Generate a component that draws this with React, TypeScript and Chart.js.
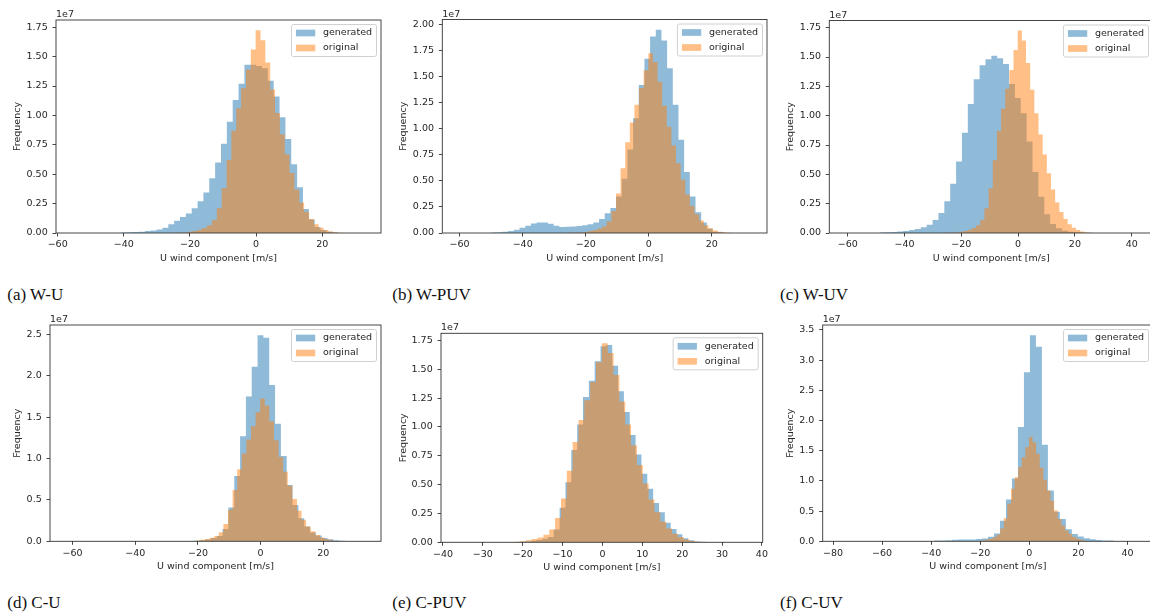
import React, { useEffect, useRef } from "react";
import { Chart, registerables } from "chart.js";

Chart.register(...registerables);

// ---------------- data (frequencies in units of 1e7) ----------------
const SERIES_LABELS = ["generated", "original"];
const X_LABEL = "U wind component [m/s]";
const Y_LABEL = "Frequency";
const OFFSET_LABEL = "1e7";

// "original" histogram: the same data in every panel
const ORIGINAL_START = -25.07;
const ORIGINAL_WIDTH = 1.466;
const ORIGINAL = [
  0.0015, 0.003, 0.005, 0.01, 0.018, 0.028, 0.042, 0.065, 0.11, 0.21,
  0.38, 0.62, 0.87, 1.06, 1.23, 1.39, 1.56, 1.725, 1.64, 1.45,
  1.22, 1.02, 0.84, 0.67, 0.51, 0.37, 0.26, 0.18, 0.12, 0.075,
  0.045, 0.025, 0.012, 0.005, 0.002,
];

// (a) W-U generated
const GEN_A_START = -40.71;
const GEN_A_WIDTH = 1.77;
const GEN_A = [
  0.005, 0.006, 0.008, 0.011, 0.016, 0.022, 0.03, 0.045, 0.075, 0.105,
  0.135, 0.165, 0.21, 0.27, 0.345, 0.465, 0.6, 0.76, 0.945, 1.13,
  1.27, 1.43, 1.43, 1.42, 1.4, 1.295, 1.16, 0.985, 0.8, 0.585,
  0.39, 0.205, 0.115, 0.05, 0.025, 0.01, 0.004,
];

// (b) W-PUV generated
const GEN_B_START = -49.98;
const GEN_B_WIDTH = 1.8;
const GEN_B = [
  0.005, 0.008, 0.012, 0.02, 0.03, 0.05, 0.07, 0.09, 0.1, 0.1,
  0.088, 0.07, 0.058, 0.06, 0.063, 0.067, 0.075, 0.085, 0.1, 0.135,
  0.19, 0.24, 0.35, 0.52, 0.8, 1.1, 1.42, 1.67, 1.885, 1.95,
  1.845, 1.58, 1.23, 0.895, 0.585, 0.35, 0.2, 0.1, 0.04, 0.012, 0.004,
];

// (c) W-UV generated
const GEN_C_START = -48.76;
const GEN_C_WIDTH = 2.07;
const GEN_C = [
  0.004, 0.006, 0.009, 0.012, 0.017, 0.025, 0.035, 0.05, 0.07, 0.11,
  0.17, 0.27, 0.42, 0.61, 0.855, 1.1, 1.31, 1.43, 1.48, 1.51,
  1.49, 1.44, 1.27, 1.15, 1.02, 0.78, 0.52, 0.31, 0.16, 0.077,
  0.04, 0.02, 0.01, 0.006, 0.004, 0.003,
];

// (d) C-U generated
const GEN_D_START = -23.3;
const GEN_D_WIDTH = 1.86;
const GEN_D = [
  0.003, 0.006, 0.012, 0.022, 0.04, 0.065, 0.15, 0.41, 0.79, 1.27,
  1.75, 2.11, 2.49, 2.46, 1.89, 1.42, 1.03, 0.68, 0.44, 0.28,
  0.18, 0.105, 0.07, 0.04, 0.024, 0.012, 0.008, 0.005,
];

// (e) C-PUV generated
const GEN_E_START = -21.0;
const GEN_E_WIDTH = 1.466;
const GEN_E = [
  0.004, 0.008, 0.013, 0.02, 0.03, 0.045, 0.11, 0.3, 0.52, 0.8,
  1.02, 1.26, 1.4, 1.57, 1.7, 1.71, 1.53, 1.31, 1.13, 0.93,
  0.76, 0.595, 0.465, 0.34, 0.26, 0.17, 0.115, 0.07, 0.035, 0.018,
  0.008, 0.004,
];

// (f) C-UV generated
const GEN_F_START = -38.795;
const GEN_F_WIDTH = 2.44;
const GEN_F = [
  0.015, 0.015, 0.016, 0.025, 0.028, 0.028, 0.03, 0.04, 0.045, 0.075,
  0.13, 0.34, 0.69, 1.04, 1.89, 2.8, 3.41, 3.22, 1.6, 0.84,
  0.49, 0.37, 0.2, 0.12, 0.08, 0.05, 0.033, 0.02, 0.015, 0.012,
];

// tick labels
const X_TICKS_W = [-60, -40, -20, 0, 20];
const X_TICKS_C = [-60, -40, -20, 0, 20, 40];
const X_TICKS_E = [-40, -30, -20, -10, 0, 10, 20, 30, 40];
const X_TICKS_F = [-80, -60, -40, -20, 0, 20, 40];
const Y_TICKS_175 = [0, 0.25, 0.5, 0.75, 1.0, 1.25, 1.5, 1.75];
const Y_TICKS_200 = [0, 0.25, 0.5, 0.75, 1.0, 1.25, 1.5, 1.75, 2.0];
const Y_TICKS_25 = [0, 0.5, 1.0, 1.5, 2.0, 2.5];
const Y_TICKS_35 = [0, 0.5, 1.0, 1.5, 2.0, 2.5, 3.0, 3.5];

const CAPTIONS = ["(a) W-U", "(b) W-PUV", "(c) W-UV", "(d) C-U", "(e) C-PUV", "(f) C-UV"];

// ---------------- styles / layout ----------------
const FONT = '"DejaVu Sans", sans-serif';
const FS = 9.5;
const LH = FS * 1.2;
const TEXT = "#262626";
const AXIS = "#333333";
const BLUE = "rgba(31,119,180,0.5)";
const ORANGE = "rgba(255,127,14,0.5)";

const PANELS = [
  { gen: GEN_A, start: GEN_A_START, width: GEN_A_WIDTH, xTicks: X_TICKS_W, yTicks: Y_TICKS_175, dec: 2,
    X0: 0, L: 56, T: 20, R: 381, B: 233, xMin: -60.5, xMax: 37.75, yTitleX: 17.3, capX: 7.3, capBase: 300.3 },
  { gen: GEN_B, start: GEN_B_START, width: GEN_B_WIDTH, xTicks: X_TICKS_W, yTicks: Y_TICKS_200, dec: 2,
    X0: 385, L: 442.3, T: 19.5, R: 767, B: 233, xMin: -65.5, xMax: 37.5, yTitleX: 403.3, capX: 392.3, capBase: 300.3 },
  { gen: GEN_C, start: GEN_C_START, width: GEN_C_WIDTH, xTicks: X_TICKS_C, yTicks: Y_TICKS_175, dec: 2,
    X0: 770, L: 829.3, T: 20.5, R: 1153, B: 233, xMin: -66.5, xMax: 47.5, yTitleX: 790.7, capX: 780, capBase: 300.3 },
  { gen: GEN_D, start: GEN_D_START, width: GEN_D_WIDTH, xTicks: X_TICKS_W, yTicks: Y_TICKS_25, dec: 1,
    X0: 0, L: 50, T: 325, R: 381, B: 541.3, xMin: -67.2, xMax: 38.4, yTitleX: 18, capX: 7.3, capBase: 608.3 },
  { gen: GEN_E, start: GEN_E_START, width: GEN_E_WIDTH, xTicks: X_TICKS_E, yTicks: Y_TICKS_175, dec: 2,
    X0: 385, L: 441, T: 333.3, R: 762.7, B: 542.3, xMin: -40.5, xMax: 40.2, yTitleX: 403.3, capX: 392.3, capBase: 608.3 },
  { gen: GEN_F, start: GEN_F_START, width: GEN_F_WIDTH, xTicks: X_TICKS_F, yTicks: Y_TICKS_35, dec: 1,
    X0: 770, L: 822.7, T: 325, R: 1153, B: 541.3, xMin: -84.2, xMax: 50.4, yTitleX: 790.7, capX: 780, capBase: 608.3 },
];

function histPoints(start: number, width: number, counts: number[]) {
  const pts = counts.map((c, i) => ({ x: start + i * width, y: c }));
  pts.push({ x: start + counts.length * width, y: 0 });
  return pts;
}

function fmtX(v: number) {
  return v < 0 ? "\u2212" + Math.abs(v) : String(v);
}

const decorPlugin = {
  id: "decor",
  afterDraw(chart: any) {
    const { ctx, chartArea: a } = chart;
    ctx.save();
    // full frame (spines)
    ctx.strokeStyle = AXIS;
    ctx.lineWidth = 0.9;
    ctx.strokeRect(a.left, a.top, a.right - a.left, a.bottom - a.top);
    // offset text
    ctx.fillStyle = TEXT;
    ctx.font = `${FS}px ${FONT}`;
    ctx.textAlign = "left";
    ctx.textBaseline = "alphabetic";
    ctx.fillText(OFFSET_LABEL, a.left, a.top - 3);
    // legend
    const textW = Math.max(...SERIES_LABELS.map((l) => ctx.measureText(l).width));
    const padL = 4.5, handleW = 19.3, gap = 7.7, padR = 4.5;
    const boxW = padL + handleW + gap + textW + padR;
    const boxR = a.right - 4.5;
    const boxL = boxR - boxW;
    const boxT = a.top + 4.5;
    const boxH = 32;
    const r = 2;
    ctx.beginPath();
    ctx.moveTo(boxL + r, boxT);
    ctx.lineTo(boxR - r, boxT);
    ctx.arcTo(boxR, boxT, boxR, boxT + r, r);
    ctx.lineTo(boxR, boxT + boxH - r);
    ctx.arcTo(boxR, boxT + boxH, boxR - r, boxT + boxH, r);
    ctx.lineTo(boxL + r, boxT + boxH);
    ctx.arcTo(boxL, boxT + boxH, boxL, boxT + boxH - r, r);
    ctx.lineTo(boxL, boxT + r);
    ctx.arcTo(boxL, boxT, boxL + r, boxT, r);
    ctx.closePath();
    ctx.fillStyle = "rgba(255,255,255,0.8)";
    ctx.fill();
    ctx.strokeStyle = "#d0d0d0";
    ctx.lineWidth = 1;
    ctx.stroke();
    const colors = [BLUE, ORANGE];
    SERIES_LABELS.forEach((label, i) => {
      const cy = boxT + 8.5 + i * 15;
      ctx.fillStyle = colors[i];
      ctx.fillRect(boxL + padL, cy - 3.35, handleW, 6.7);
      ctx.fillStyle = TEXT;
      ctx.textBaseline = "middle";
      ctx.fillText(label, boxL + padL + handleW + gap, cy);
    });
    ctx.restore();
  },
};

function HistPanel({ p }: { p: any }) {
  const ref = useRef<HTMLCanvasElement>(null);
  const top = Math.floor(p.T) - 20;
  const width = Math.ceil(p.R + 12 - p.X0);
  const height = Math.ceil(p.B + 34 - top);

  useEffect(() => {
    const canvas = ref.current;
    if (!canvas) return;
    const yAxisW = p.L - p.X0;
    const xAxisH = height - (p.B - top);
    const padTop = p.T - top;
    const padRight = width - (p.R - p.X0);
    const ymax = 1.05 * Math.max(...p.gen, ...ORIGINAL);
    const font = { family: FONT, size: FS, lineHeight: 1.2 };
    const grid = {
      drawOnChartArea: false,
      drawTicks: true,
      tickLength: 3.5,
      tickWidth: 0.9,
      tickColor: AXIS,
      color: AXIS,
    };
    const chart = new Chart(canvas, {
      type: "line",
      data: {
        datasets: [
          {
            label: SERIES_LABELS[0],
            data: histPoints(p.start, p.width, p.gen),
            stepped: true,
            fill: "origin",
            backgroundColor: BLUE,
            borderWidth: 0,
            pointRadius: 0,
            order: 1,
          },
          {
            label: SERIES_LABELS[1],
            data: histPoints(ORIGINAL_START, ORIGINAL_WIDTH, ORIGINAL),
            stepped: true,
            fill: "origin",
            backgroundColor: ORANGE,
            borderWidth: 0,
            pointRadius: 0,
            order: 0,
          },
        ],
      },
      options: {
        responsive: false,
        animation: false,
        events: [],
        layout: { padding: { top: padTop, right: padRight, left: 0, bottom: 0 } },
        plugins: { legend: { display: false }, tooltip: { enabled: false } },
        scales: {
          x: {
            type: "linear",
            min: p.xMin,
            max: p.xMax,
            afterBuildTicks: (s: any) => {
              s.ticks = p.xTicks.map((v: number) => ({ value: v }));
            },
            afterFit: (s: any) => {
              s.height = xAxisH;
            },
            ticks: {
              autoSkip: false,
              maxRotation: 0,
              minRotation: 0,
              padding: 2.7,
              color: TEXT,
              font,
              callback: (v: any) => fmtX(Number(v)),
            },
            grid,
            border: { display: false },
            title: {
              display: true,
              text: X_LABEL,
              color: TEXT,
              font,
              padding: { top: 0, bottom: xAxisH - 25.3 - LH / 2 },
            },
          },
          y: {
            type: "linear",
            min: 0,
            max: ymax,
            afterBuildTicks: (s: any) => {
              s.ticks = p.yTicks.map((v: number) => ({ value: v }));
            },
            afterFit: (s: any) => {
              s.width = yAxisW;
            },
            ticks: {
              autoSkip: false,
              padding: 4.8,
              color: TEXT,
              font,
              callback: (v: any) => Number(v).toFixed(p.dec),
            },
            grid,
            border: { display: false },
            title: {
              display: true,
              text: Y_LABEL,
              color: TEXT,
              font,
              padding: { top: p.yTitleX - p.X0 - LH / 2, bottom: 0 },
            },
          },
        },
      },
      plugins: [decorPlugin],
    } as any);
    return () => chart.destroy();
  }, []);

  return (
    <canvas
      ref={ref}
      width={width}
      height={height}
      style={{ position: "absolute", left: p.X0, top, width, height }}
    />
  );
}

export default function App() {
  return (
    <div
      style={{
        position: "fixed",
        left: 0,
        top: 0,
        width: 1150,
        height: 615,
        overflow: "hidden",
        background: "#ffffff",
      }}
    >
      {PANELS.map((p, i) => (
        <HistPanel key={i} p={p} />
      ))}
      {PANELS.map((p, i) => (
        <div
          key={"c" + i}
          style={{
            position: "absolute",
            left: p.capX,
            top: p.capBase - 14.24,
            font: '17px "Liberation Serif", serif',
            lineHeight: "17px",
            whiteSpace: "nowrap",
            color: "#111111",
          }}
        >
          {CAPTIONS[i]}
        </div>
      ))}
    </div>
  );
}
